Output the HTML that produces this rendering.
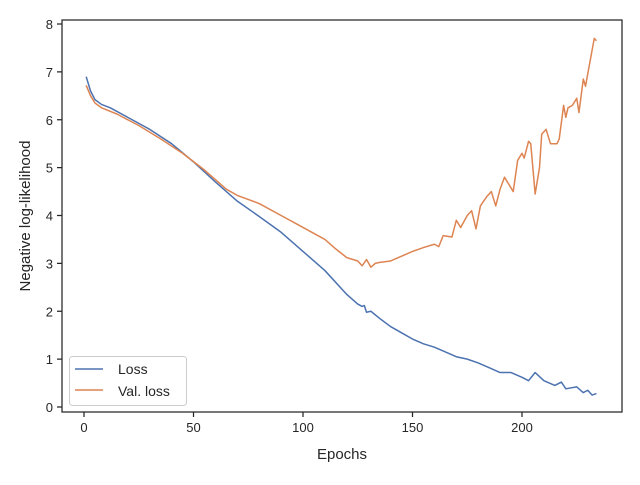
<!DOCTYPE html>
<html><head><meta charset="utf-8"><style>
body{margin:0;background:#fff;}
text{font-family:"Liberation Sans","DejaVu Sans",sans-serif;fill:#262626;}
</style></head><body>
<svg id="chart" width="640" height="480" xmlns="http://www.w3.org/2000/svg">
<rect width="640" height="480" fill="#fff"/>
<g id="marks"></g>
<g id="axes"></g>
</svg>
<script>
const lossEpochs=[1,3,5,8,12,20,30,40,50,60,70,80,90,100,110,120,125,127,128,129,131,135,140,145,150,155,160,165,170,175,180,185,190,195,200,203,206,210,215,218,220,225,228,230,232,234];
const lossValues=[6.9,6.6,6.42,6.32,6.25,6.05,5.8,5.5,5.12,4.7,4.3,3.98,3.65,3.25,2.85,2.35,2.15,2.1,2.12,1.98,2.0,1.85,1.68,1.55,1.42,1.32,1.25,1.15,1.05,1.0,0.92,0.82,0.72,0.72,0.62,0.55,0.72,0.55,0.45,0.52,0.38,0.42,0.3,0.35,0.25,0.28];
const valEpochs=[1,3,5,8,15,25,35,45,55,65,70,80,90,100,110,115,120,125,127,129,131,133,135,140,145,150,155,160,162,164,168,170,172,175,177,179,181,184,186,188,190,192,194,196,198,200,201,203,204,206,208,209,211,213,216,217,219,220,221,223,225,226,228,229,231,233,234];
const valValues=[6.72,6.5,6.35,6.25,6.12,5.88,5.6,5.3,4.95,4.55,4.42,4.25,4.0,3.75,3.5,3.3,3.12,3.05,2.95,3.08,2.92,3.0,3.02,3.05,3.15,3.25,3.33,3.4,3.35,3.58,3.55,3.9,3.75,4.0,4.1,3.72,4.2,4.4,4.5,4.2,4.55,4.8,4.65,4.5,5.15,5.3,5.2,5.55,5.5,4.45,5.0,5.7,5.8,5.5,5.5,5.6,6.3,6.05,6.25,6.3,6.45,6.15,6.85,6.7,7.2,7.7,7.65];
const xTicks=[0,50,100,150,200];
const yTicks=[0,1,2,3,4,5,6,7,8];
const NS="http://www.w3.org/2000/svg";
const L=62,R=622,T=20,B=412;
const xs=v=>84+v*2.19;
const ys=v=>407-v*47.875;
const marks=document.getElementById('marks'),axes=document.getElementById('axes');
function mk(tag,attrs,parent){const e=document.createElementNS(NS,tag);for(const k in attrs)e.setAttribute(k,attrs[k]);parent.appendChild(e);return e;}
function line(ex,vals,color,name){
  const p=mk('polyline',{points:ex.map((e,i)=>xs(e)+','+ys(vals[i])).join(' '),fill:'none',stroke:color,'stroke-width':1.5,'stroke-linejoin':'round'},marks);
  
  
}
line(lossEpochs,lossValues,'#4c72b0','loss-line');
line(valEpochs,valValues,'#dd8452','val-loss-line');
const frame=mk('rect',{x:L,y:T,width:R-L,height:B-T,fill:'none',stroke:'#262626','stroke-width':1.25},axes);


xTicks.forEach(t=>{
  mk('line',{x1:xs(t),x2:xs(t),y1:B,y2:B+5,stroke:'#262626','stroke-width':1.25},axes);
  const tx=mk('text',{x:xs(t),y:B+20,'text-anchor':'middle','font-size':13},axes);
  tx.textContent=t;
  
  
});
yTicks.forEach(t=>{
  mk('line',{x1:L,x2:L-5,y1:ys(t),y2:ys(t),stroke:'#262626','stroke-width':1.25},axes);
  const tx=mk('text',{x:L-9,y:ys(t)+5,'text-anchor':'end','font-size':13},axes);
  tx.textContent=t;
  
  
});
</script>
<svg style="position:absolute;left:0;top:0" width="640" height="480" xmlns="http://www.w3.org/2000/svg">
<text x="342" y="459" text-anchor="middle" font-size="15">Epochs</text>
<text x="30" y="216" text-anchor="middle" font-size="15" transform="rotate(-90 30 216)">Negative log-likelihood</text>
<g>
<rect x="69.5" y="356.5" width="117" height="49" rx="3" fill="#fff" fill-opacity="0.85" stroke="#ccc"/>
<line x1="75" x2="103" y1="369" y2="369" stroke="#4c72b0" stroke-width="1.5"/>
<text x="118" y="374" font-size="14">Loss</text>
<line x1="75" x2="103" y1="390" y2="390" stroke="#dd8452" stroke-width="1.5"/>
<text x="118" y="396" font-size="14">Val. loss</text>
</g>
</svg>
</body></html>
